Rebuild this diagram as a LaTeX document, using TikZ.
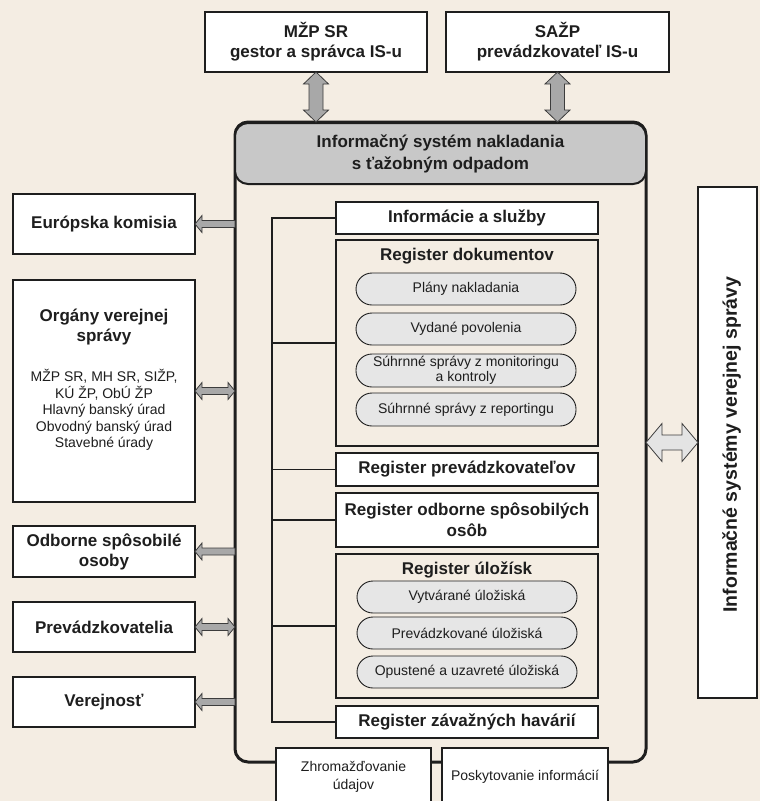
\documentclass[tikz,border=0pt]{standalone}
\usepackage{fontspec}
\setmainfont{Liberation Sans}
\usetikzlibrary{calc}
\definecolor{bg}{HTML}{F4EDE3}
\definecolor{txt}{HTML}{1E1E1E}
\definecolor{hdr}{HTML}{C8C8C8}
\definecolor{pill}{HTML}{E6E6E6}
\definecolor{gar}{HTML}{A8A8A8}
\definecolor{lar}{HTML}{E4E4E4}
\definecolor{aline}{HTML}{3C3C3C}

\tikzset{
 base/.style={draw=txt, text=txt, inner sep=0pt, outer sep=0pt, align=center},
 bigfont/.style={font=\fontsize{17}{20}\selectfont\bfseries},
 smallfont/.style={font=\fontsize{14}{16.6}\selectfont},
 outerbox/.style={base, fill=white, line width=2.4pt, bigfont},
 topbox/.style={base, fill=white, line width=2pt, bigfont, minimum height=60pt},
 leftbox/.style={outerbox, minimum width=182pt},
 regbox/.style={base, fill=white, line width=1.3pt, minimum width=262pt, bigfont},
 grpbox/.style={base, line width=1.3pt, minimum width=262pt},
 grptitle/.style={text=txt, inner sep=0pt, bigfont},
 pillbox/.style={base, fill=pill, line width=0.9pt, minimum width=220pt, minimum height=32pt, rounded corners=16pt, smallfont},
 botbox/.style={base, fill=white, line width=1.2pt, minimum height=58pt, smallfont},
 spine/.style={draw=txt, line width=1.5pt},
 garrow/.style={draw=aline, fill=gar, line width=0.8pt, line join=miter},
 larrow/.style={draw=aline, fill=lar, line width=0.8pt, line join=miter},
}

% left-pointing single block arrow: #1 tip (left), #2 tail (right)
\newcommand\leftblock[2]{%
 \draw[garrow] let \p1=(#1), \p2=(#2) in
 (\x1,\y1) -- (\x1+7pt,\y1+8.5pt) -- (\x1+7pt,\y1+3.5pt) -- (\x2,\y1+3.5pt)
 -- (\x2,\y1-3.5pt) -- (\x1+7pt,\y1-3.5pt) -- (\x1+7pt,\y1-8.5pt) -- cycle;}
% horizontal double block arrow: style #1, left #2, right #3, half shaft #4, half head #5, head length #6
\newcommand\hdouble[6]{%
 \draw[#1] let \p1=(#2), \p2=(#3) in
 (\x1,\y1) -- (\x1+#6,\y1+#5) -- (\x1+#6,\y1+#4) -- (\x2-#6,\y1+#4) -- (\x2-#6,\y1+#5)
 -- (\x2,\y1) -- (\x2-#6,\y1-#5) -- (\x2-#6,\y1-#4) -- (\x1+#6,\y1-#4) -- (\x1+#6,\y1-#5) -- cycle;}
% vertical double block arrow: top #1, bottom #2
\newcommand\vdouble[2]{%
 \draw[garrow] let \p1=(#1), \p2=(#2) in
 (\x1,\y1) -- (\x1+12.5pt,\y1-12pt) -- (\x1+7pt,\y1-12pt) -- (\x1+7pt,\y2+12pt) -- (\x1+12.5pt,\y2+12pt)
 -- (\x1,\y2) -- (\x1-12.5pt,\y2+12pt) -- (\x1-7pt,\y2+12pt) -- (\x1-7pt,\y1-12pt) -- (\x1-12.5pt,\y1-12pt) -- cycle;}

\begin{document}
\begin{tikzpicture}[x=1pt,y=-1pt]
\useasboundingbox (0,0) rectangle (760,801);
\fill[bg] (0,0) rectangle (760,801);
\clip (0,0) rectangle (760,801);

% main frame
\node[base, line width=3pt, rounded corners=13pt, minimum width=411pt, minimum height=640pt] (main) at (440.5,442) {};
\node[base, fill=hdr, line width=2pt, rounded corners=13pt, minimum width=411pt, minimum height=61pt, font=\fontsize{17}{22}\selectfont\bfseries] (hdr) at (440.5,153.5) {Informačný systém nakladania\\s ťažobným odpadom};

% top boxes
\node[topbox, minimum width=222pt] (mzp) at (316,42) {MŽP SR\\gestor a správca IS-u};
\node[topbox, minimum width=223pt] (sazp) at (557.5,42) {SAŽP\\prevádzkovateľ IS-u};

% inner registers
\node[regbox, minimum height=32pt] (info) at (467,218) {Informácie a služby};
\node[grpbox, minimum height=206pt] (dok) at (467,343) {};
\node[grptitle] (doktitle) at (467,256) {Register dokumentov};
\node[pillbox] (p1) at (466,289) {Plány nakladania};
\node[pillbox] (p2) at (466,329) {Vydané povolenia};
\node[pillbox, minimum height=33pt, font=\fontsize{14}{15}\selectfont] (p3) at (466,370.5) {Súhrnné správy z monitoringu\\a kontroly};
\node[pillbox, minimum height=33pt] (p4) at (466,409.5) {Súhrnné správy z reportingu};
\node[regbox, minimum height=33pt] (prev) at (467,469.5) {Register prevádzkovateľov};
\node[regbox, minimum height=54pt, font=\fontsize{17}{21}\selectfont\bfseries] (odb) at (467,520) {Register odborne spôsobilých\\osôb};
\node[grpbox, minimum height=144pt] (ulo) at (467,626) {};
\node[grptitle] (ulotitle) at (467,570) {Register úložísk};
\node[pillbox] (u1) at (467,597) {Vytvárané úložiská};
\node[pillbox] (u2) at (467,633) {Prevádzkované úložiská};
\node[pillbox] (u3) at (467,672) {Opustené a uzavreté úložiská};
\node[regbox, minimum height=32pt] (zav) at (467,722) {Register závažných havárií};

% spine
\coordinate (sp) at (272,218);
\draw[spine] (info.west) -- (sp |- info.west) -- (sp |- zav.west) -- (zav.west);
\draw[spine] (dok.west) -- (sp |- dok.west);
\draw[spine] (prev.west) -- (sp |- prev.west);
\draw[spine] (odb.west) -- (sp |- odb.west);
\draw[spine] (ulo.west) -- (sp |- ulo.west);

% bottom boxes
\node[botbox, minimum width=155pt, font=\fontsize{14}{18}\selectfont] (zhr) at (353.5,777) {Zhromažďovanie\\údajov};
\node[botbox, minimum width=166pt] (pos) at (525,777) {Poskytovanie informácií};

% left boxes
\node[leftbox, minimum height=60pt] (ek) at (104,224) {Európska komisia};
\node[leftbox, minimum height=222pt] (org) at (104,391) {};
\node[text=txt, align=center, inner sep=0pt, bigfont] (orgt) at (104,327) {Orgány verejnej\\správy};
\node[text=txt, align=center, inner sep=0pt, smallfont] (orgs) at (104,410) {MŽP SR, MH SR, SIŽP,\\KÚ ŽP, ObÚ ŽP\\Hlavný banský úrad\\Obvodný banský úrad\\Stavebné úrady};
\node[leftbox, minimum height=51pt] (odbl) at (104,551.5) {Odborne spôsobilé\\osoby};
\node[leftbox, minimum height=50pt] (prevl) at (104,627) {Prevádzkovatelia};
\node[leftbox, minimum height=50pt] (ver) at (104,702) {Verejnosť};

% right box
\node[base, fill=white, line width=1.2pt, minimum width=59pt, minimum height=511pt] (isvs) at (727.5,442.5) {};
\node[text=txt, inner sep=0pt, rotate=90, font=\fontsize{19.5}{22}\selectfont\bfseries] (isvst) at ([xshift=4pt,yshift=-2pt]isvs.center) {Informačné systémy verejnej správy};

% arrows
\vdouble{mzp.south}{mzp.south |- main.north}
\vdouble{sazp.south}{sazp.south |- main.north}
\leftblock{ek.east}{main.west |- ek.east}
\hdouble{garrow}{org.east}{main.west |- org.east}{3.5pt}{8.5pt}{7pt}
\leftblock{odbl.east}{main.west |- odbl.east}
\hdouble{garrow}{prevl.east}{main.west |- prevl.east}{3.5pt}{8.5pt}{7pt}
\leftblock{ver.east}{main.west |- ver.east}
\hdouble{larrow}{main.east |- isvs.west}{isvs.west}{7.5pt}{19pt}{16pt}
\end{tikzpicture}
\end{document}
